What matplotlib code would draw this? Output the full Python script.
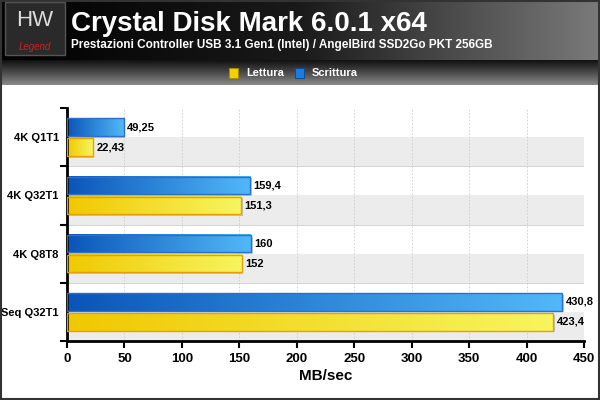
import matplotlib
matplotlib.use("Agg")
import matplotlib.pyplot as plt
import numpy as np
from matplotlib.colors import LinearSegmentedColormap

plt.rcParams['font.family'] = ['Liberation Sans', 'DejaVu Sans']

categories = ["4K Q1T1", "4K Q32T1", "4K Q8T8", "Seq Q32T1"]
lettura = [22.43, 151.3, 152, 423.4]
scrittura = [49.25, 159.4, 160, 430.8]
lettura_labels = ["22,43", "151,3", "152", "423,4"]
scrittura_labels = ["49,25", "159,4", "160", "430,8"]
xticks = [0, 50, 100, 150, 200, 250, 300, 350, 400, 450]

fig = plt.figure(figsize=(6, 4), dpi=100)
fig.patch.set_facecolor("white")

hax = fig.add_axes([0, 1 - 60/400, 1, 60/400])
g = np.linspace(0, 1, 256)[None, :]
hcm = LinearSegmentedColormap.from_list("h", ["#000000", "#1a1a1a", "#7a7a7a"])
hax.imshow(g, aspect="auto", cmap=hcm, extent=(0, 1, 0, 1))
hax.set_xlim(0, 1); hax.set_ylim(0, 1); hax.axis("off")
hax.add_patch(plt.Rectangle((0.008, 0.08), 0.1, 0.88, facecolor="#2a2a2a", edgecolor="#555", lw=1))
hax.text(0.058, 0.66, "HW", color="#dddddd", fontsize=16, ha="center", va="center")
hax.text(0.058, 0.22, "Legend", color="#cc2222", fontsize=7, ha="center", va="center", style="italic")
hax.text(0.118, 0.6, "Crystal Disk Mark 6.0.1 x64", color="white", fontsize=20, fontweight="bold", va="center")
hax.text(0.118, 0.25, "Prestazioni Controller USB 3.1 Gen1 (Intel) / AngelBird SSD2Go PKT 256GB", color="white", fontsize=8.5, fontweight="bold", va="center")

lax = fig.add_axes([0, 1 - 85/400, 1, 25/400])
vg = np.linspace(0, 1, 64)[:, None]
lcm = LinearSegmentedColormap.from_list("l", ["#111111", "#4a4a4a", "#8a8a8a"])
lax.imshow(vg, aspect="auto", cmap=lcm, extent=(0, 1, 0, 1))
lax.set_xlim(0, 1); lax.set_ylim(0, 1); lax.axis("off")
lax.add_patch(plt.Rectangle((0.382, 0.3), 0.014, 0.4, facecolor="#f5d000", edgecolor="#aa8800", lw=0.6))
lax.text(0.41, 0.5, "Lettura", color="white", fontsize=8, fontweight="bold", va="center")
lax.add_patch(plt.Rectangle((0.492, 0.3), 0.014, 0.4, facecolor="#1a7ce0", edgecolor="#0a4a90", lw=0.6))
lax.text(0.52, 0.5, "Scrittura", color="white", fontsize=8, fontweight="bold", va="center")

ax = fig.add_axes([67/600, 1 - 341/400, (584 - 67)/600, (341 - 108)/400])
n = len(categories)
ypos = np.arange(n)[::-1]
for y in ypos:
    ax.axhspan(y - 0.5, y, color="#ececec", zorder=0, lw=0)
    ax.axhline(y - 0.5, color="#cccccc", lw=0.6, zorder=0.5)
for x in xticks[1:]:
    ax.axvline(x, color="#cccccc", lw=0.6, ls=(0, (2, 2)), zorder=0.6)

ycm = LinearSegmentedColormap.from_list("y", ["#f0c800", "#f7f560"])
bcm = LinearSegmentedColormap.from_list("b", ["#0a55b8", "#52b8f8"])
hgrad = np.linspace(0, 1, 256)[None, :]
h = 0.3
for vals, labs, cm, ec, off in [(lettura, lettura_labels, ycm, "#e8a000", -0.17),
                                (scrittura, scrittura_labels, bcm, "#2a70d0", 0.17)]:
    for y, v, lab in zip(ypos, vals, labs):
        y0 = y + off - h/2
        ax.add_patch(plt.Rectangle((1.5, y0 - 0.03), v, h, facecolor="#999999", alpha=0.5, zorder=1, lw=0))
        ax.imshow(hgrad, aspect="auto", cmap=cm, extent=(0, v, y0, y0 + h), zorder=2)
        ax.add_patch(plt.Rectangle((0, y0), v, h, facecolor="none", edgecolor=ec, lw=1, zorder=3))
        ax.text(v + 3, y + off, lab, fontsize=8, fontweight="bold", va="center", zorder=4)

ax.set_xlim(0, 450)
ax.set_ylim(-0.5, n - 0.5)
ax.set_yticks(ypos)
ax.set_yticklabels(categories, fontsize=8, fontweight="bold")
ax.set_yticks(np.arange(n + 1) - 0.5, minor=True)
ax.tick_params(axis="y", which="major", length=0, pad=6)
ax.tick_params(axis="y", which="minor", length=5, width=1.5, direction="out")
ax.set_xticks(xticks)
ax.set_xticklabels([str(t) for t in xticks], fontsize=9.5, fontweight="bold")
ax.tick_params(axis="x", length=5, width=1.5, direction="out")
for s in ["top", "right"]:
    ax.spines[s].set_visible(False)
ax.spines["left"].set_linewidth(2)
ax.spines["bottom"].set_linewidth(2)
ax.set_xlabel("MB/sec", fontsize=11, fontweight="bold", labelpad=3)

fig.add_artist(plt.Rectangle((0.002, 0.003), 0.996, 0.994, transform=fig.transFigure, fill=False, edgecolor="#333", lw=1.5))
fig.savefig("out.png", dpi=100)
